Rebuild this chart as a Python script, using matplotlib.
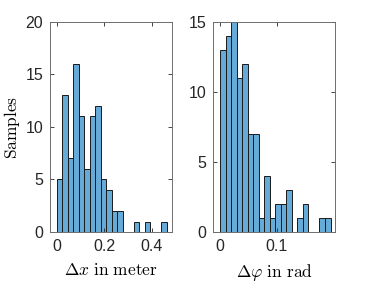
import matplotlib
matplotlib.use("Agg")
import matplotlib.pyplot as plt
import numpy as np

# histogram counts (20 bins each)
dx_counts = [5, 13, 7, 16, 11, 6, 11, 12, 5, 4, 2, 2, 0, 0, 1, 0, 1, 0, 0, 1]
dx_start, dx_width = 0.0, 0.0232
dphi_counts = [13, 14, 15, 11, 12, 7, 7, 1, 4, 1, 2, 2, 3, 0, 1, 2, 0, 0, 1, 1]
dphi_start, dphi_width = 0.0, 0.00975

dx_ticks = [0, 0.2, 0.4]
dx_ticklabels = ["0", "0.2", "0.4"]
dphi_ticks = [0, 0.1]
dphi_ticklabels = ["0", "0.1"]

plt.rcParams["mathtext.fontset"] = "cm"
plt.rcParams["font.family"] = ["Liberation Sans", "DejaVu Sans"]

FACE = "#66AAD7"


def style(ax):
    for s in ax.spines.values():
        s.set_color("#6e6e6e")
        s.set_linewidth(0.7)
    ax.tick_params(direction="in", length=3, width=0.6, colors="#262626",
                   labelsize=11.5, top=True, right=True, pad=5)


def hist(ax, counts, start, width):
    edges = start + width * np.arange(len(counts))
    ax.bar(edges, counts, width=width, align="edge", color=FACE,
           edgecolor="#1a1a1a", linewidth=0.7)


fig = plt.figure(figsize=(3.7, 2.84), dpi=100)
ax1 = fig.add_axes([0.135, 0.183, 0.330, 0.740])
ax2 = fig.add_axes([0.5766, 0.183, 0.329, 0.740])

hist(ax1, dx_counts, dx_start, dx_width)
ax1.set_xlim(-0.028, 0.4855)
ax1.set_ylim(0, 20)
ax1.set_xticks(dx_ticks, dx_ticklabels)
ax1.set_yticks([0, 5, 10, 15, 20])
ax1.set_xlabel(r"$\Delta x\ \mathrm{in\ meter}$", fontsize=12.5, labelpad=6)
ax1.set_ylabel(r"$\mathrm{Samples}$", fontsize=12.5, labelpad=2)
style(ax1)

hist(ax2, dphi_counts, dphi_start, dphi_width)
ax2.set_xlim(-0.0118, 0.203)
ax2.set_ylim(0, 15)
ax2.set_xticks(dphi_ticks, dphi_ticklabels)
ax2.set_yticks([0, 5, 10, 15])
ax2.set_xlabel(r"$\Delta \varphi\ \mathrm{in\ rad}$", fontsize=12.5, labelpad=6)
style(ax2)

fig.savefig("out.png", dpi=100)
